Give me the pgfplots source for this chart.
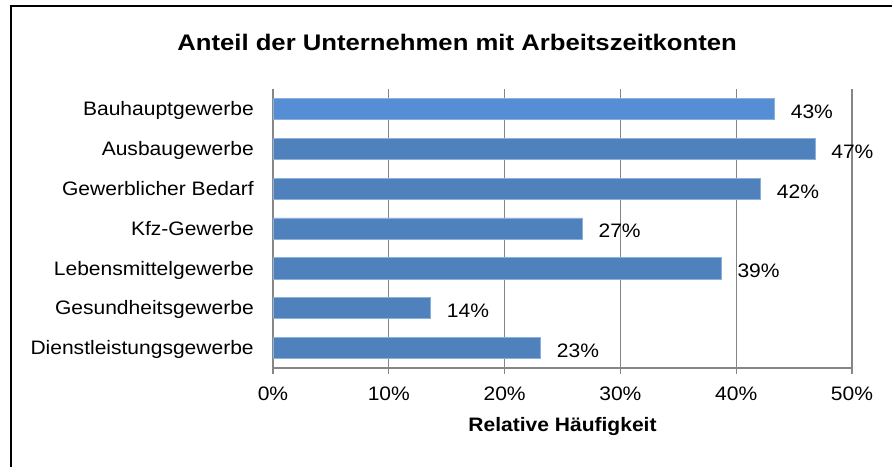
\documentclass[border=0pt]{standalone}
\usepackage{fontspec}
\setmainfont{Liberation Sans}[FakeStretch=1.08]
\newfontfamily\titlefont{Liberation Sans}[FakeStretch=1.14]
\usepackage{pgfplots}
\pgfplotsset{compat=1.18}
\definecolor{barA}{RGB}{85,142,213}
\definecolor{barB}{RGB}{79,129,189}
\definecolor{barEdge}{RGB}{140,175,220}
\definecolor{gridc}{RGB}{134,134,134}
\begin{document}
\fontsize{14.6pt}{17pt}\selectfont
\begin{tikzpicture}
\useasboundingbox (0,0) rectangle (669pt,-350.25pt);
\draw[line width=1.2pt, black] (8.25pt,-355pt) -- (8.25pt,-4.5pt) -- (675pt,-4.5pt);
\node[anchor=base, inner sep=0pt, font=\titlefont\bfseries\fontsize{16.9pt}{20pt}\selectfont] at (342.8pt,-38pt) {Anteil der Unternehmen mit Arbeitszeitkonten};
\begin{axis}[
  at={(204.75pt,-276pt)}, anchor=south west,
  scale only axis, width=434.25pt, height=209.25pt,
  xmin=0, xmax=50, ymin=-0.5, ymax=6.5,
  xbar, bar shift=0pt, bar width=0.53,
  axis x line*=bottom, axis y line*=left,
  axis line style={gridc, line width=1.2pt, -},
  /pgf/number format/assume math mode=true,
  xtick={0,10,20,30,40,50},
  xticklabel={\pgfmathprintnumber{\tick}\%},
  xticklabel style={anchor=base, inner sep=0pt, yshift=-20.3pt},
  tick align=outside, major tick length=4.2pt,
  x tick style={gridc, line width=0.9pt},
  xmajorgrids, grid style={gridc, line width=0.9pt},
  ytick={0,1,2,3,4,5,6},
  yticklabels={Dienstleistungsgewerbe,Gesundheitsgewerbe,Lebensmittelgewerbe,Kfz-Gewerbe,Gewerblicher Bedarf,Ausbaugewerbe,Bauhauptgewerbe},
  yticklabel style={anchor=base east, inner sep=0pt, xshift=-10.05pt, yshift=-5pt},
  y tick style={draw=none},
  extra y ticks={-0.5,0.5,1.5,2.5,3.5,4.5,5.5,6.5},
  extra y tick labels={},
  extra y tick style={draw=gridc, line width=0.9pt},
  point meta=x,
  nodes near coords={\pgfmathprintnumber[fixed,precision=0]{\pgfplotspointmeta}\%},
  nodes near coords align={horizontal},
  nodes near coords style={anchor=west, inner sep=0pt, xshift=12pt, yshift=-2pt, text=black},
  clip=false,
]
\addplot[fill=barA, draw=barEdge, line width=0.6pt] coordinates {(43.3,6)};
\addplot[fill=barB, draw=barEdge, line width=0.6pt] coordinates {(46.8,5) (42.1,4) (26.7,3) (38.7,2) (13.6,1) (23.1,0)};
\end{axis}
\node[anchor=base, inner sep=0pt, font=\bfseries] at (421.9pt,-323.8pt) {Relative Häufigkeit};
\end{tikzpicture}
\end{document}
